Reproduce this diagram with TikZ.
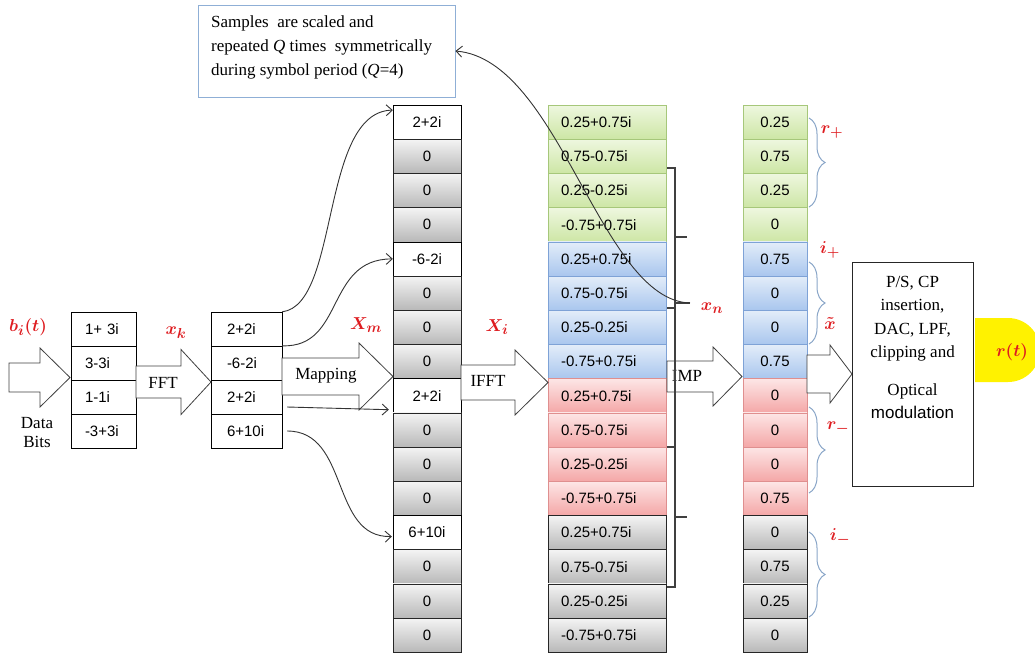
\documentclass[tikz,border=0pt]{standalone}
\usepackage{fontspec}
\setmainfont{Liberation Serif}
\setsansfont{Liberation Sans}
\usetikzlibrary{arrows.meta,decorations.pathreplacing,calc}
\definecolor{lblred}{RGB}{222,28,32}
\definecolor{grnT}{HTML}{EEF7DF}
\definecolor{grnB}{HTML}{CDE6A5}
\definecolor{grnD}{HTML}{A6C77A}
\definecolor{bluT}{HTML}{E3EDF9}
\definecolor{bluB}{HTML}{A9C6EE}
\definecolor{bluD}{HTML}{7EA2D6}
\definecolor{rdT}{HTML}{FDE6E6}
\definecolor{rdB}{HTML}{F4A7A7}
\definecolor{rdD}{HTML}{DF8F8F}
\definecolor{gryT}{HTML}{F4F4F4}
\definecolor{gryB}{HTML}{B8B8B8}
\definecolor{tbblue}{HTML}{8FAFD6}
\definecolor{brcol}{HTML}{8AA6C8}
\definecolor{ylw}{HTML}{FFF200}
\newcommand\blockarr[6]{%
  \draw[barrow] (#1,#4-#5) -- (#2,#4-#5) -- (#2,#4-#6) -- (#3,#4) -- (#2,#4+#6) -- (#2,#4+#5) -- (#1,#4+#5) -- cycle;}
\begin{document}
\begin{tikzpicture}[x=1pt,y=-1pt,
  cell/.style={draw, minimum height=34.2pt, inner sep=0pt, font=\fontsize{15}{18}\selectfont\sffamily},
  wcell/.style={fill=white, draw=black},
  gcell/.style={top color=gryT, bottom color=gryB, draw=black!85},
  grn/.style={top color=grnT, bottom color=grnB, draw=grnD},
  blu/.style={top color=bluT, bottom color=bluB, draw=bluD},
  rd/.style={top color=rdT, bottom color=rdB, draw=rdD},
  barrow/.style={fill=white, draw=black!75, line width=0.8pt, line join=miter},
  curve/.style={draw=black!80, line width=0.9pt, -{Straight Barb[length=6pt,width=11pt]}},
  brk/.style={draw=black!75, line width=1.1pt},
  brc/.style={draw=brcol, line width=1pt, decorate, decoration={brace, amplitude=16pt}},
  lbl/.style={text=lblred, inner sep=0pt, font=\fontsize{19}{21}\selectfont\boldmath},
  serif/.style={inner sep=0pt, font=\fontsize{17}{20}\selectfont}
]
\useasboundingbox (0,0) rectangle (1035,654);
\clip (0,0) rectangle (1035,654);

% column 1
\foreach \t [count=\i from 0] in {1+ 3i,3-3i,1-1i,-3+3i}
  \node[cell, wcell, minimum height=34pt, text width=37pt, inner xsep=14pt, align=left] (c1-\i) at (103.5,{329+34*\i}) {\t};
% column 2
\foreach \t [count=\i from 0] in {2+2i,-6-2i,2+2i,6+10i}
  \node[cell, wcell, minimum height=34pt, text width=39pt, inner xsep=16pt, align=left] (c2-\i) at (246.5,{329+34*\i}) {\t};
% column 3
\foreach \t/\s [count=\i from 0] in {2+2i/wcell,0/gcell,0/gcell,0/gcell,-6-2i/wcell,0/gcell,0/gcell,0/gcell,2+2i/wcell,0/gcell,0/gcell,0/gcell,6+10i/wcell,0/gcell,0/gcell,0/gcell}
  \node[cell, \s, minimum width=68pt] (c3-\i) at (427,{122.1+34.2*\i}) {\t};
% column 4
\foreach \s [count=\g from 0] in {grn,blu,rd,gcell}
  \foreach \t [count=\k from 0] in {0.25+0.75i,0.75-0.75i,0.25-0.25i,-0.75+0.75i}{
    \pgfmathtruncatemacro\i{4*\g+\k}
    \node[cell, \s, text width=92pt, inner xsep=13pt, align=left] (c4-\i) at (607,{122.1+34.2*\i}) {\t};
  }
% column 5
\foreach \t/\s [count=\i from 0] in {0.25/grn,0.75/grn,0.25/grn,0/grn,0.75/blu,0/blu,0/blu,0.75/blu,0/rd,0/rd,0/rd,0.75/rd,0/gcell,0.75/gcell,0.25/gcell,0/gcell}
  \node[cell, \s, minimum width=64pt] (c5-\i) at (775,{122.1+34.2*\i}) {\t};

% block arrows
\blockarr{9}{40}{70}{377.5}{14.5}{29.5}
\blockarr{136}{181}{211}{382}{16}{32.5}
\blockarr{282}{359}{393}{376.5}{18.5}{33.5}
\blockarr{461}{515}{548}{382.5}{17.5}{32.5}
\blockarr{667}{713}{742}{376.5}{15.5}{29.5}
\blockarr{807}{830}{852}{374}{19}{29}

% arrow labels
\node[serif, align=center] (databits) at (37,433) {Data\\[-1pt]Bits};
\node[serif] (fft) at (163,383) {FFT};
\node[serif] (mapping) at (326,376) {Mapping};
\node[serif] (ifft) at (488,381) {IFFT};
\node[serif] (imp) at (687,376) {IMP};

% red labels
\node[lbl] (lbi) at (28,327) {$b_i(t)$};
\node[lbl] (lxk) at (176,333) {$x_k$};
\node[lbl] (lXm) at (366,325) {$X_m$};
\node[lbl] (lXi) at (497,327) {$X_i$};
\node[lbl] (lxn) at (712,308) {$x_n$};
\node[lbl] (lrp) at (832,132) {$r_+$};
\node[lbl] (lip) at (830,250) {$i_+$};
\node[lbl] (lxt) at (830,323) {$\tilde{x}$};
\node[lbl] (lrm) at (838,428) {$r_-$};
\node[lbl] (lim) at (840,537) {$i_-$};

% mapping connectors
\draw[curve] (c2-0.north east) .. controls (340,305) and (320,112) .. ($(c3-0.west)+(0,-12)$);
\draw[curve] (c2-1.north east) .. controls (345,348) and (325,259) .. (c3-4.west);
\draw[curve] ($(c2-2.east)+(5,10)$) -- ($(c3-8.west)+(-4,14)$);
\draw[curve] ($(c2-3.east)+(5,0)$) .. controls (350,431) and (330,538) .. ($(c3-12.west)+(-1,4)$);

% bracket right of column 4
\coordinate (xnend) at (690,303);
\draw[brk] (667,168) -- (675,168) -- (675,587) -- (667,587);
\draw[brk] (675,237) -- (687,237);
\draw[brk] (675,303) -- (xnend);
\draw[brk] (667,308) -- (675,308);
\draw[brk] (667,447) -- (675,447);
\draw[brk] (675,517) -- (687,517);

% braces right of column 5
\draw[brc] (809,118) -- (809,207);
\draw[brc] (809,262) -- (809,344);
\draw[brc] (809,407) -- (809,493);
\draw[brc] (809,532) -- (809,617);

% text box
\node[draw=tbblue, line width=0.9pt, minimum width=257pt, minimum height=92pt, inner sep=0pt] (textbox) at (326.5,51) {};
\node[anchor=north west, align=left, inner sep=0pt, font=\fontsize{17}{24}\selectfont] (tbtext) at (211,16)
  {Samples\ \ are scaled and\\repeated \textit{Q} times\ \ symmetrically\\during symbol period (\textit{Q}=4)};
\draw[curve] (xnend) .. controls (600,300) and (560,60) .. (textbox.east);

% P/S box
\node[draw=black!85, line width=0.9pt, minimum width=121pt, minimum height=224pt, inner sep=0pt] (psbox) at (912.5,374) {};
\node[anchor=north, align=center, inner sep=0pt, font=\fontsize{17}{23.5}\selectfont] (pstext) at (912.5,276)
  {P/S, CP\\insertion,\\DAC, LPF,\\clipping and\\[14pt]Optical\\{\sffamily modulation}};

% r(t)
\fill[ylw] (975,318) [rounded corners=32pt] -- (1040,318) -- (1040,382) [sharp corners] -- (975,382) -- cycle;
\node[lbl] (lrt) at (1012,352) {$r(t)$};
\end{tikzpicture}
\end{document}
